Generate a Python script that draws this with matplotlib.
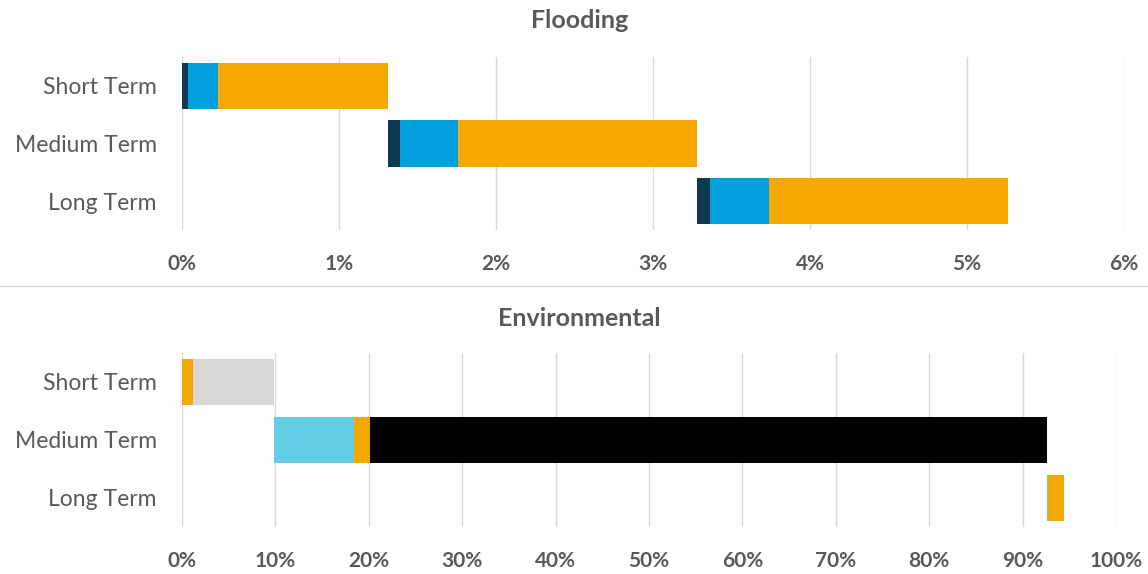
import matplotlib.pyplot as plt
import numpy as np
from matplotlib.ticker import FuncFormatter
from matplotlib.lines import Line2D

plt.rcParams['font.family'] = ['Lato', 'DejaVu Sans']

categories = ['Short Term', 'Medium Term', 'Long Term']

# Flooding (percent of total), stacked segments per row
flood_dark = [0.04, 0.08, 0.08]
flood_blue = [0.19, 0.37, 0.38]
flood_orange = [1.08, 1.52, 1.52]

# Environmental (percent), stacked segments per row
env_cyan = [0.0, 8.6, 0.15]
env_orange = [1.2, 1.7, 1.7]
env_grey = [8.6, 0.0, 0.0]
env_black = [0.0, 72.5, 0.0]

flood_ticks = [0, 1, 2, 3, 4, 5, 6]
env_ticks = [0, 10, 20, 30, 40, 50, 60, 70, 80, 90, 100]

text_col = '#595959'

fig = plt.figure(figsize=(11.48, 5.74), dpi=100)


def waterfall(ax, series, colors, ticks):
    series = np.array(series)
    totals = series.sum(axis=0)
    start = np.concatenate([[0], np.cumsum(totals)[:-1]])
    y = np.arange(len(categories))
    left = start.copy()
    for vals, c in zip(series, colors):
        ax.barh(y, vals, left=left, height=0.8, color=c, zorder=3)
        left = left + vals
    ax.set_yticks(y)
    ax.set_yticklabels(categories, fontsize=16.5, color=text_col)
    ax.set_ylim(2.5, -0.5)
    ax.set_xlim(ticks[0], ticks[-1])
    ax.set_xticks(ticks)
    ax.xaxis.set_major_formatter(FuncFormatter(lambda v, p: '%d%%' % v))
    for lab in ax.get_xticklabels():
        lab.set_fontweight('bold')
        lab.set_fontsize(15)
        lab.set_color(text_col)
    ax.tick_params(axis='x', length=0, pad=17)
    ax.tick_params(axis='y', length=0, pad=18)
    ax.grid(axis='x', color='#d9d9d9', lw=1, zorder=0)
    for s in ax.spines.values():
        s.set_visible(False)


ax1 = fig.add_axes([182 / 1148, 1 - 230 / 574, 942 / 1148, 173 / 574])
waterfall(ax1, [flood_dark, flood_blue, flood_orange],
          ['#0d3a50', '#00a0dc', '#f5a800'], flood_ticks)

ax2 = fig.add_axes([182 / 1148, 1 - 527 / 574, 934 / 1148, 174 / 574])
waterfall(ax2, [env_cyan, env_orange, env_grey, env_black],
          ['#63cde3', '#f5a800', '#d9d7d5', '#000000'], env_ticks)

fig.text(0.505, 1 - 21 / 574, 'Flooding', ha='center', va='center',
         fontsize=18, fontweight='bold', color=text_col)
fig.text(0.505, 1 - 318 / 574, 'Environmental', ha='center', va='center',
         fontsize=18, fontweight='bold', color=text_col)

# separator between the two chart panels
fig.add_artist(Line2D([0, 1], [1 - 286 / 574, 1 - 286 / 574],
                      color='#d9d9d9', lw=1, transform=fig.transFigure))

fig.savefig('out.png', dpi=100)
